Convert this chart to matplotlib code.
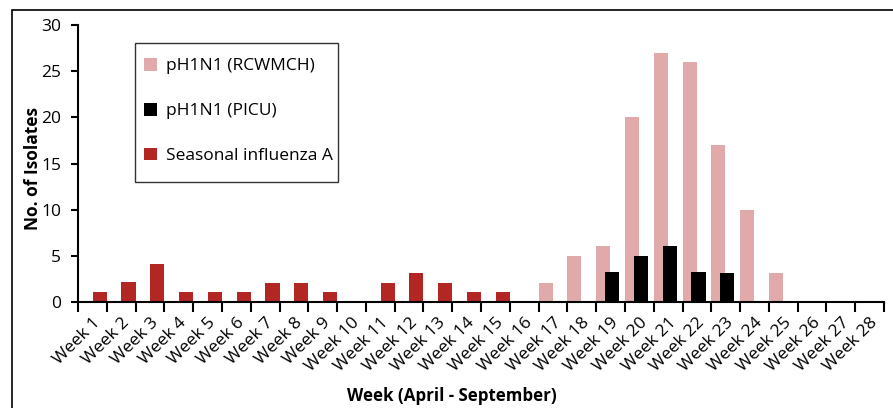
import matplotlib
matplotlib.use("Agg")
import matplotlib.pyplot as plt
from matplotlib.patches import Rectangle
import numpy as np

plt.rcParams['font.family'] = ['Open Sans', 'DejaVu Sans']

# data
weeks = ['Week %d' % i for i in range(1, 29)]
rcwmch = [0, 0, 0, 0, 0, 0, 0, 0, 0, 0, 0, 0, 0, 0, 0, 0,
          2.1, 5.0, 6.1, 20.0, 27.0, 26.0, 17.0, 10.0, 3.1, 0, 0, 0]
picu = [0, 0, 0, 0, 0, 0, 0, 0, 0, 0, 0, 0, 0, 0, 0, 0,
        0, 0, 3.2, 5.0, 6.1, 3.2, 3.1, 0, 0, 0, 0, 0]
seasonal = [1.1, 2.2, 4.1, 1.1, 1.1, 1.1, 2.1, 2.1, 1.1, 0, 2.1, 3.1, 2.1, 1.1, 1.1, 0,
            0, 0, 0, 0, 0, 0, 0, 0, 0, 0, 0, 0]

c_pink = '#e0aaaa'
c_red = '#b22624'

W, H = 893, 408
fig = plt.figure(figsize=(W / 100, H / 100), dpi=100)
ax = fig.add_axes([78 / W, (H - 302) / H, (884 - 78) / W, (302 - 25) / H])

x = np.arange(len(weeks))
bw = 0.49
ax.bar(x, rcwmch, width=bw, align='edge', color=c_pink, label='pH1N1 (RCWMCH)')
ax.bar(x + 0.31, picu, width=bw, align='edge', color='black', label='pH1N1 (PICU)')
ax.bar(x + 1 - bw, seasonal, width=bw, align='edge', color=c_red, label='Seasonal influenza A')

ax.set_xlim(0, len(weeks))
ax.set_ylim(0, 30)
ax.set_yticks([0, 5, 10, 15, 20, 25, 30])

ax.set_xticks(np.arange(len(weeks) + 1))
ax.set_xticklabels([])
ax.set_xticks(x + 0.5, minor=True)
ax.set_xticklabels(weeks, minor=True, rotation=45, ha='right', rotation_mode='anchor')
ax.tick_params(axis='x', which='major', length=7, width=1.5, direction='out')
ax.tick_params(axis='x', which='minor', length=0, pad=9, labelsize=12.5)
ax.tick_params(axis='y', length=5, width=1.5, labelsize=12.5, pad=7)

for s in ['top', 'right']:
    ax.spines[s].set_visible(False)
for s in ['left', 'bottom']:
    ax.spines[s].set_linewidth(1.5)

fig.text(33 / W, (H - 168) / H, 'No. of Isolates', fontsize=12.5, fontweight='bold',
         rotation=90, ha='center', va='center')
fig.text(452 / W, (H - 396) / H, 'Week (April - September)', fontsize=12.2,
         fontweight='bold', ha='center', va='center')

# legend: box drawn separately, entries placed without frame
fig.patches.append(Rectangle((135 / W, (H - 182) / H), (338 - 135) / W, (182 - 43) / H,
                             transform=fig.transFigure, fill=False,
                             edgecolor='#333333', linewidth=1.0))
leg = ax.legend(loc='center left', bbox_to_anchor=(144 / W, (H - 111) / H),
                bbox_transform=fig.transFigure, fontsize=12.5, frameon=False,
                handlelength=0.75, handleheight=0.75, handletextpad=0.5,
                labelspacing=1.64, borderpad=0, borderaxespad=0)

# outer frame
fig.patches.append(Rectangle((12 / W, -0.1), 1.2, (H - 10) / H + 0.1,
                             transform=fig.transFigure, fill=False,
                             edgecolor='black', linewidth=1.2))

fig.savefig('out.png', dpi=100)
